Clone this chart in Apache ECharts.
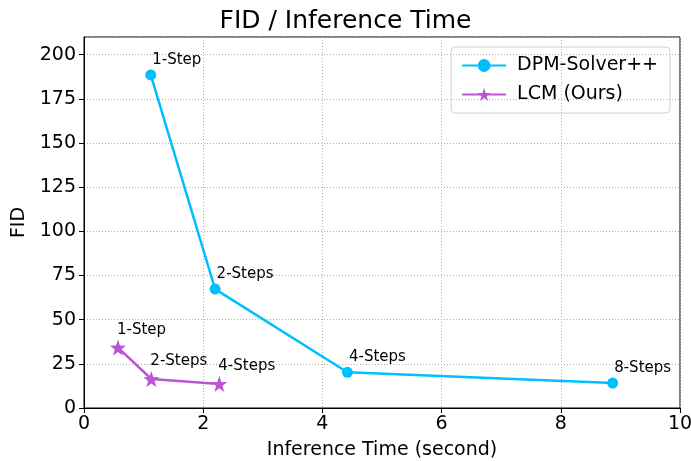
<!DOCTYPE html>
<html>
<head>
<meta charset="UTF-8">
<title>FID / Inference Time</title>
<script src="https://cdn.jsdelivr.net/npm/echarts@6/dist/echarts.min.js"></script>
<style>
  html, body { margin: 0; padding: 0; background: #fff; }
  #main { width: 691px; height: 461px; }
</style>
</head>
<body>
<div id="main"></div>
<script>
// data
var dpmTime = [1.12, 2.2, 4.42, 8.87];
var dpmFid = [188.5, 67.3, 20.2, 14.1];
var dpmLabels = ['1-Step', '2-Steps', '4-Steps', '8-Steps'];

var lcmTime = [0.57, 1.13, 2.27];
var lcmFid = [34.2, 16.4, 13.6];
var lcmLabels = ['1-Step', '2-Steps', '4-Steps'];

var xTicks = [0, 2, 4, 6, 8, 10];
var yTicks = [0, 25, 50, 75, 100, 125, 150, 175, 200];

var font = 'DejaVu Sans';
var star = 'path://M0,-10 L2.35,-3.24 L9.51,-3.09 L3.8,1.24 L5.88,8.09 L0,4 L-5.88,8.09 L-3.8,1.24 L-9.51,-3.09 L-2.35,-3.24 Z';

function pairs(xs, ys, names) {
    return xs.map(function (x, i) { return { value: [x, ys[i]], name: names[i] }; });
}

var myChart = echarts.init(document.getElementById('main'));

var pointLabel = {
    show: true,
    formatter: '{b}',
    position: [7, -2],
    align: 'left',
    verticalAlign: 'bottom',
    color: '#000',
    fontFamily: font,
    fontSize: 15
};

option = {
    animation: false,
    textStyle: { fontFamily: font },
    title: {
        text: 'FID / Inference Time',
        left: 'center',
        top: 4,
        textStyle: { fontFamily: font, fontSize: 25, fontWeight: 'normal', color: '#000' }
    },
    legend: {
        orient: 'vertical',
        right: 21,
        top: 47,
        padding: [9, 12, 9, 10],
        itemGap: 10,
        itemWidth: 44,
        itemHeight: 16,
        borderColor: '#d0d0d0',
        borderWidth: 1,
        borderRadius: 4,
        textStyle: { fontFamily: font, fontSize: 19, color: '#000', padding: [0, 0, 0, 6] },
        data: ['DPM-Solver++', 'LCM (Ours)']
    },
    grid: {
        left: 84, right: 11, top: 37, bottom: 53,
        outerBoundsMode: 'none',
        containLabel: false,
        show: true, borderColor: '#000', borderWidth: 1
    },
    xAxis: {
        type: 'value',
        min: 0, max: 10, interval: 2,
        name: 'Inference Time (second)',
        nameLocation: 'middle',
        nameGap: 33,
        nameTextStyle: { fontFamily: font, fontSize: 19, color: '#000' },
        axisLine: { lineStyle: { color: '#000' } },
        axisTick: { show: true, length: 5, lineStyle: { color: '#000' } },
        axisLabel: {
            fontFamily: font, fontSize: 19, color: '#000', margin: 7,
            formatter: function (v) { return xTicks.indexOf(v) >= 0 ? String(v) : ''; }
        },
        splitLine: { show: true, lineStyle: { color: '#b0b0b0', type: [1, 2], width: 1 } }
    },
    yAxis: {
        type: 'value',
        min: 0, max: 210, interval: 25,
        name: 'FID',
        nameLocation: 'middle',
        nameGap: 54,
        nameTextStyle: { fontFamily: font, fontSize: 19, color: '#000' },
        axisLine: { show: true, lineStyle: { color: '#000' } },
        axisTick: { show: true, length: 5, lineStyle: { color: '#000' } },
        axisLabel: {
            fontFamily: font, fontSize: 19, color: '#000', margin: 8,
            showMaxLabel: false,
            formatter: function (v) { return yTicks.indexOf(v) >= 0 ? String(v) : ''; }
        },
        splitLine: { show: true, lineStyle: { color: '#b0b0b0', type: [1, 2], width: 1 } }
    },
    series: [
        {
            name: 'DPM-Solver++',
            type: 'line',
            data: pairs(dpmTime, dpmFid, dpmLabels),
            symbol: 'circle',
            symbolSize: 11,
            itemStyle: { color: '#00bfff' },
            lineStyle: { color: '#00bfff', width: 2.5 },
            label: pointLabel
        },
        {
            name: 'LCM (Ours)',
            type: 'line',
            data: pairs(lcmTime, lcmFid, lcmLabels),
            symbol: star,
            symbolSize: 16,
            itemStyle: { color: '#ba55d3' },
            lineStyle: { color: '#ba55d3', width: 2.5 },
            label: pointLabel
        }
    ]
};

myChart.setOption(option);
</script>
</body>
</html>
